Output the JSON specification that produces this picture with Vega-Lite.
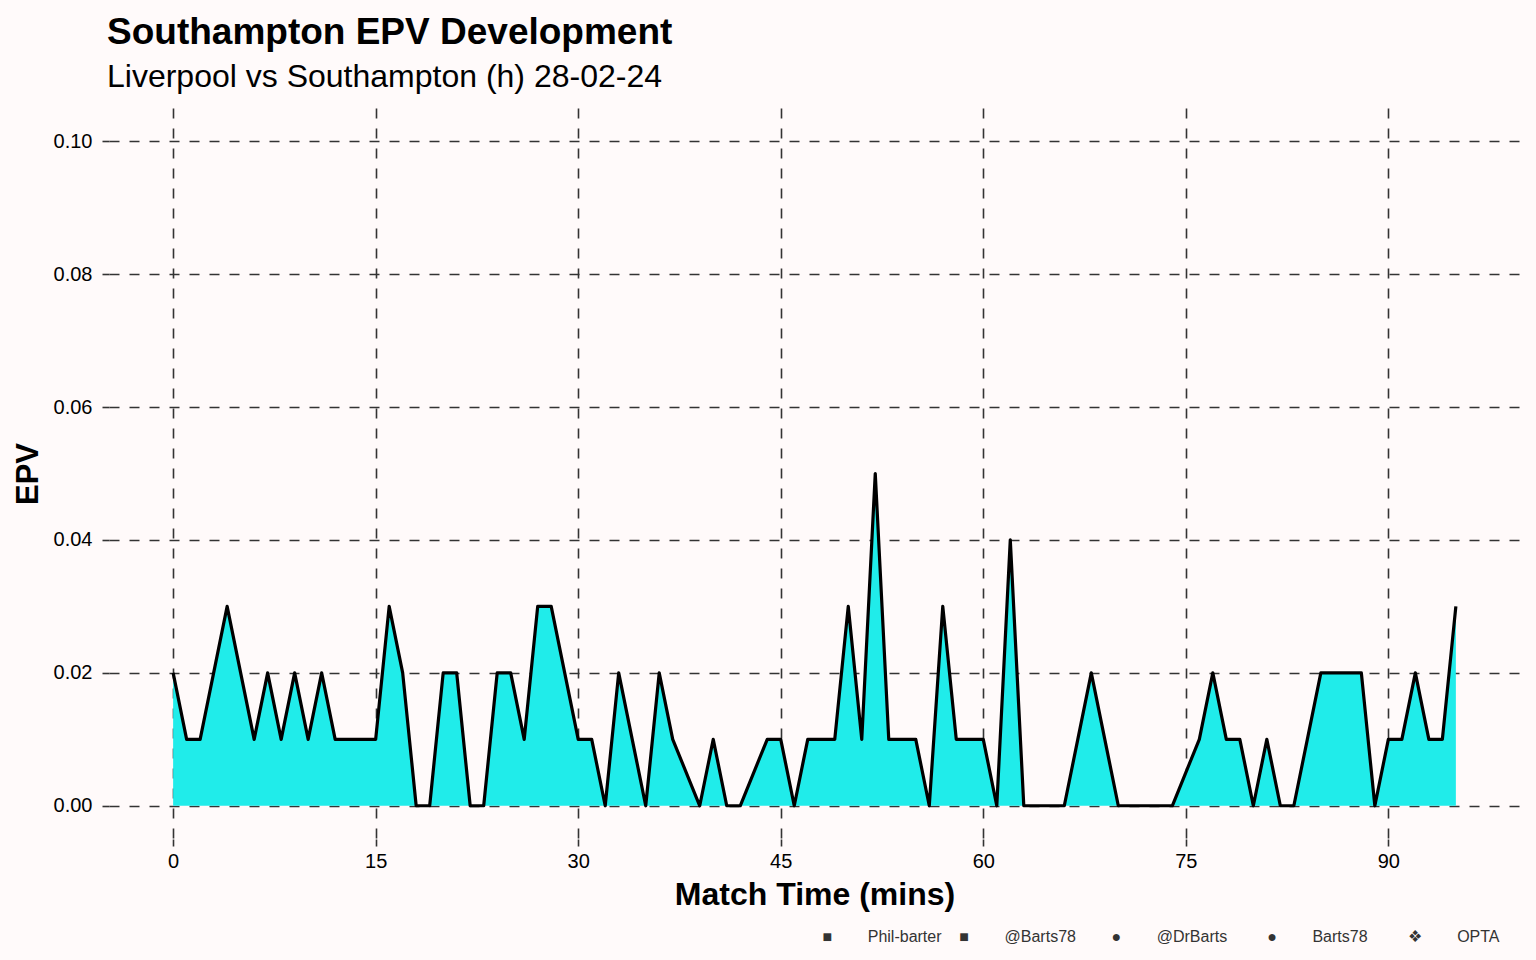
{
  "$schema": "https://vega.github.io/schema/vega-lite/v6.json",
  "width": 1411,
  "height": 731,
  "autosize": {"type": "none"},
  "padding": {"left": 109, "top": 108, "right": 16, "bottom": 121},
  "background": "#FFFAFA",
  "config": {
    "view": {"stroke": null},
    "font": "Liberation Sans"
  },
  "title": {
    "text": "Southampton EPV Development",
    "subtitle": "Liverpool vs Southampton (h) 28-02-24",
    "anchor": "start",
    "frame": "group",
    "font": "Liberation Sans",
    "subtitleFont": "Liberation Sans",
    "fontSize": 37,
    "fontWeight": "bold",
    "subtitleFontSize": 32,
    "color": "#000000",
    "subtitleColor": "#000000",
    "offset": 14,
    "subtitlePadding": 10,
    "dx": -2
  },
  "data": {
    "values": [
      {"t": 0, "epv": 0.02}, {"t": 1, "epv": 0.01}, {"t": 2, "epv": 0.01}, {"t": 3, "epv": 0.02},
      {"t": 4, "epv": 0.03}, {"t": 5, "epv": 0.02}, {"t": 6, "epv": 0.01}, {"t": 7, "epv": 0.02},
      {"t": 8, "epv": 0.01}, {"t": 9, "epv": 0.02}, {"t": 10, "epv": 0.01}, {"t": 11, "epv": 0.02},
      {"t": 12, "epv": 0.01}, {"t": 13, "epv": 0.01}, {"t": 14, "epv": 0.01}, {"t": 15, "epv": 0.01},
      {"t": 16, "epv": 0.03}, {"t": 17, "epv": 0.02}, {"t": 18, "epv": 0}, {"t": 19, "epv": 0},
      {"t": 20, "epv": 0.02}, {"t": 21, "epv": 0.02}, {"t": 22, "epv": 0}, {"t": 23, "epv": 0},
      {"t": 24, "epv": 0.02}, {"t": 25, "epv": 0.02}, {"t": 26, "epv": 0.01}, {"t": 27, "epv": 0.03},
      {"t": 28, "epv": 0.03}, {"t": 29, "epv": 0.02}, {"t": 30, "epv": 0.01}, {"t": 31, "epv": 0.01},
      {"t": 32, "epv": 0}, {"t": 33, "epv": 0.02}, {"t": 34, "epv": 0.01}, {"t": 35, "epv": 0},
      {"t": 36, "epv": 0.02}, {"t": 37, "epv": 0.01}, {"t": 39, "epv": 0}, {"t": 40, "epv": 0.01},
      {"t": 41, "epv": 0}, {"t": 42, "epv": 0}, {"t": 44, "epv": 0.01}, {"t": 45, "epv": 0.01},
      {"t": 46, "epv": 0}, {"t": 47, "epv": 0.01}, {"t": 48, "epv": 0.01}, {"t": 49, "epv": 0.01},
      {"t": 50, "epv": 0.03}, {"t": 51, "epv": 0.01}, {"t": 52, "epv": 0.05}, {"t": 53, "epv": 0.01},
      {"t": 54, "epv": 0.01}, {"t": 55, "epv": 0.01}, {"t": 56, "epv": 0}, {"t": 57, "epv": 0.03},
      {"t": 58, "epv": 0.01}, {"t": 59, "epv": 0.01}, {"t": 60, "epv": 0.01}, {"t": 61, "epv": 0},
      {"t": 62, "epv": 0.04}, {"t": 63, "epv": 0}, {"t": 64, "epv": 0}, {"t": 65, "epv": 0},
      {"t": 66, "epv": 0}, {"t": 67, "epv": 0.01}, {"t": 68, "epv": 0.02}, {"t": 69, "epv": 0.01},
      {"t": 70, "epv": 0}, {"t": 71, "epv": 0}, {"t": 72, "epv": 0}, {"t": 73, "epv": 0},
      {"t": 74, "epv": 0}, {"t": 76, "epv": 0.01}, {"t": 77, "epv": 0.02}, {"t": 78, "epv": 0.01},
      {"t": 79, "epv": 0.01}, {"t": 80, "epv": 0}, {"t": 81, "epv": 0.01}, {"t": 82, "epv": 0},
      {"t": 83, "epv": 0}, {"t": 84, "epv": 0.01}, {"t": 85, "epv": 0.02}, {"t": 86, "epv": 0.02},
      {"t": 87, "epv": 0.02}, {"t": 88, "epv": 0.02}, {"t": 89, "epv": 0}, {"t": 90, "epv": 0.01},
      {"t": 91, "epv": 0.01}, {"t": 92, "epv": 0.02}, {"t": 93, "epv": 0.01}, {"t": 94, "epv": 0.01},
      {"t": 95, "epv": 0.03}
    ]
  },
  "layer": [
    {
      "encoding": {
        "x": {
          "field": "t",
          "type": "quantitative",
          "scale": {"domain": [-4.75, 99.75], "nice": false, "zero": false},
          "axis": {
            "values": [0, 15, 30, 45, 60, 75, 90],
            "grid": true,
            "gridDash": [10, 10],
            "gridColor": "#333333",
            "gridWidth": 1.6,
            "domain": false,
            "ticks": true,
            "tickSize": 7,
            "tickColor": "#333333",
            "tickWidth": 1.6,
            "labelFontSize": 20,
            "labelColor": "#000000",
            "labelFont": "Liberation Sans",
            "labelPadding": 5,
            "title": "Match Time (mins)",
            "titleFont": "Liberation Sans",
            "titleFontSize": 32,
            "titleFontWeight": "bold",
            "titleColor": "#000000",
            "titlePadding": 8
          }
        },
        "y": {
          "field": "epv",
          "type": "quantitative",
          "scale": {"domain": [-0.005, 0.105], "nice": false, "zero": false},
          "axis": {
            "values": [0, 0.02, 0.04, 0.06, 0.08, 0.1],
            "format": ".2f",
            "grid": true,
            "gridDash": [10, 10],
            "gridColor": "#333333",
            "gridWidth": 1.6,
            "domain": false,
            "ticks": true,
            "tickSize": 7,
            "tickColor": "#333333",
            "tickWidth": 1.6,
            "labelFontSize": 20,
            "labelColor": "#000000",
            "labelFont": "Liberation Sans",
            "labelPadding": 10,
            "title": "EPV",
            "titleFont": "Liberation Sans",
            "titleFontSize": 31,
            "titleFontWeight": "bold",
            "titleColor": "#000000",
            "titlePadding": 9
          }
        }
      },
      "layer": [
        {
          "mark": {"type": "area", "color": "#20ECEA", "opacity": 1},
          "encoding": {"y2": {"datum": 0}}
        },
        {
          "mark": {"type": "line", "color": "#000000", "strokeWidth": 3.2, "strokeJoin": "round", "strokeCap": "butt"},
          "encoding": {}
        }
      ]
    },
    {
      "mark": {"type": "rule", "opacity": 0},
      "encoding": {
        "x": {
          "field": "t",
          "type": "quantitative",
          "scale": {"domain": [-4.75, 99.75], "nice": false, "zero": false},
          "axis": {
            "orient": "bottom",
            "grid": false,
            "ticks": false,
            "labels": false,
            "domain": false,
            "offset": 85,
            "title": "■\u00a0\u00a0\u00a0\u00a0\u00a0\u00a0\u00a0\u00a0Phil-barter\u00a0\u00a0\u00a0\u00a0■\u00a0\u00a0\u00a0\u00a0\u00a0\u00a0\u00a0\u00a0@Barts78\u00a0\u00a0\u00a0\u00a0\u00a0\u00a0\u00a0\u00a0●\u00a0\u00a0\u00a0\u00a0\u00a0\u00a0\u00a0\u00a0@DrBarts\u00a0\u00a0\u00a0\u00a0\u00a0\u00a0\u00a0\u00a0\u00a0●\u00a0\u00a0\u00a0\u00a0\u00a0\u00a0\u00a0\u00a0Barts78\u00a0\u00a0\u00a0\u00a0\u00a0\u00a0\u00a0\u00a0\u00a0❖\u00a0\u00a0\u00a0\u00a0\u00a0\u00a0\u00a0\u00a0OPTA",
            "titleAnchor": "end",
            "titleX": 1390,
            "titleFont": "Liberation Sans",
            "titleFontSize": 16,
            "titleFontWeight": "normal",
            "titleColor": "#333333",
            "titlePadding": 4
          }
        }
      }
    }
  ],
  "resolve": {"scale": {"x": "independent"}}
}
